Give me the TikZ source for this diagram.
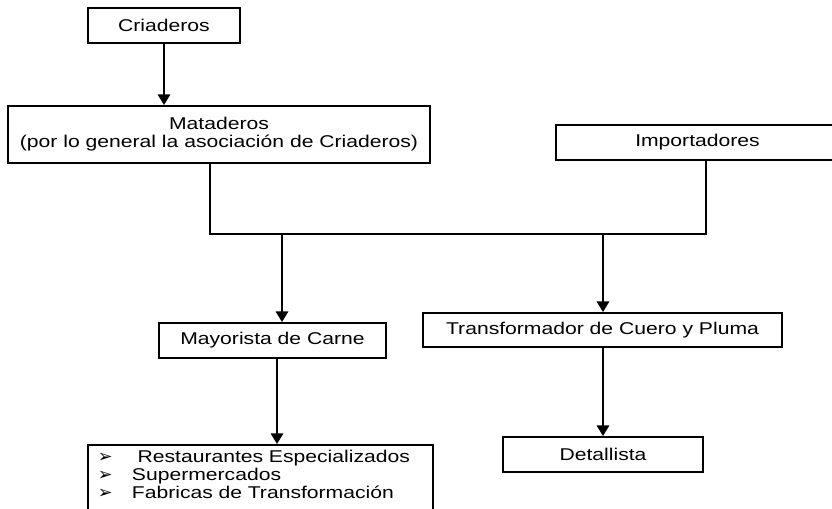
\documentclass[tikz,border=0pt]{standalone}
\usepackage{fontspec}
\setmainfont{Liberation Sans}[FakeStretch=1.24]
\newfontfamily\vinetafont{DejaVu Sans Bold}
\usetikzlibrary{arrows.meta}

\tikzset{
	caja/.style={draw, line width=1.1pt, inner sep=2pt, align=center, font=\fontsize{9.7}{10.2}\selectfont},
	flecha/.style={line width=1.1pt, -{Triangle[width=7pt,length=6pt]}},
	linea/.style={line width=1.1pt}
}

\begin{document}
\begin{tikzpicture}[x=0.02cm, y=-0.02cm]
	\useasboundingbox (0, 0) rectangle (832, 509);
	\clip (0, 0) rectangle (832, 509);

	\node[caja, minimum width=3.04cm, minimum height=0.7cm] (crias) at (164, 25.5) {Criaderos};
	\node[caja, minimum width=8.44cm, minimum height=1.14cm] (matad) at (219, 134.5) {Mataderos\\(por lo general la asociación de Criaderos)};
	\node[caja, minimum width=5.66cm, minimum height=0.7cm] (impor) at (697.5, 142.5) {Importadores};

	\node[caja, minimum width=4.54cm, minimum height=0.7cm] (mayor) at (272.5, 340.5) {Mayorista de Carne};
	\node[caja, minimum width=7.18cm, minimum height=0.68cm] (transf) at (602.5, 330) {Transformador de Cuero y Pluma};
	\node[caja, minimum width=4.0cm, minimum height=0.7cm] (detal) at (603, 454.5) {Detallista};

	\node[caja, anchor=north west, text width=6.9cm, align=left, inner xsep=0pt, inner ysep=3pt] (lista) at (87, 444) {%
		\parbox[t][1.8cm][t]{6.9cm}{%
		\hspace*{0.2cm}\makebox[0.68cm][l]{\vinetafont\normalsize ➢}\ Restaurantes Especializados\\
		\hspace*{0.2cm}\makebox[0.68cm][l]{\vinetafont\normalsize ➢}Supermercados\\
		\hspace*{0.2cm}\makebox[0.68cm][l]{\vinetafont\normalsize ➢}Fabricas de Transformación}};

	% uniones
	\coordinate (jl) at (210, 234);
	\coordinate (jr) at (706, 234);
	\coordinate (ja) at (282, 234);
	\coordinate (jb) at (603, 234);
	\coordinate (jc) at (277, 400);

	\draw[flecha] (crias) -- (crias |- matad.north);
	\draw[linea] (jl |- matad.south) -- (jl) -- (jr) -- (jr |- impor.south);
	\draw[flecha] (ja) -- (ja |- mayor.north);
	\draw[flecha] (jb) -- (jb |- transf.north);
	\draw[flecha] (jc |- mayor.south) -- (jc |- lista.north);
	\draw[flecha] (detal |- transf.south) -- (detal.north);

\end{tikzpicture}
\end{document}
